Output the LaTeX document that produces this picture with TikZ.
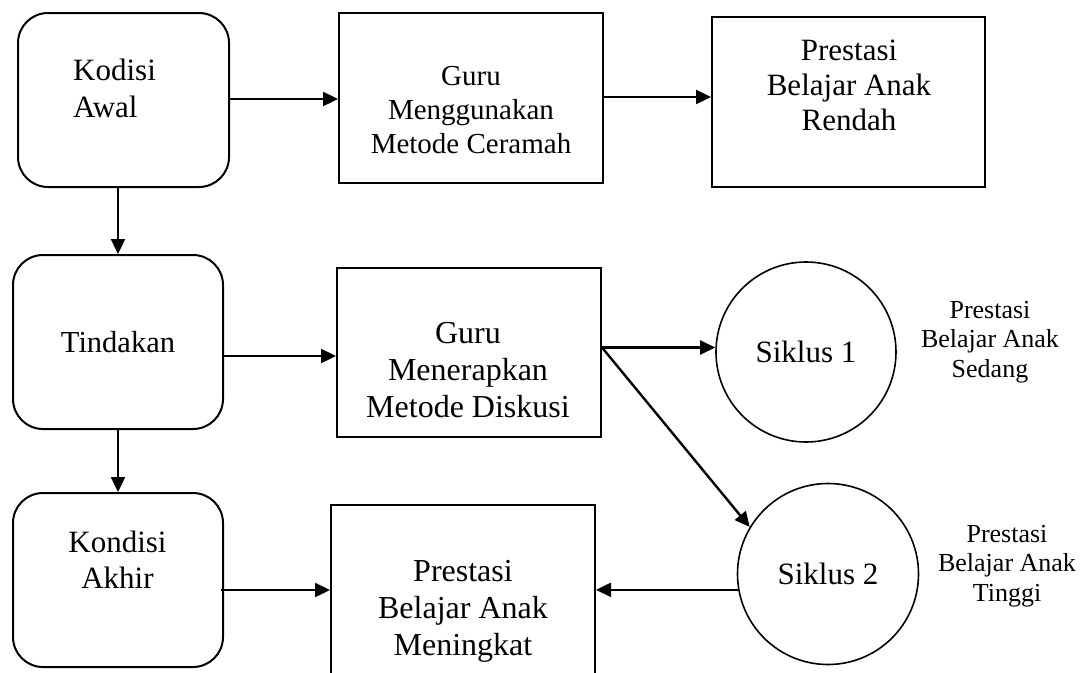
\documentclass[tikz,border=0pt]{standalone}
\usepackage{fontspec}
\setmainfont{Liberation Serif}
\usetikzlibrary{arrows.meta,calc}
\begin{document}
\begin{tikzpicture}[x=1pt,y=-1pt,
  sq/.style={draw,line width=2pt,inner sep=0pt},
  rsq/.style={sq,rounded corners=30pt},
  cyc/.style={draw,circle,line width=1.6pt,inner sep=0pt},
  txt/.style={inner sep=0pt,anchor=base},
  arr/.style={line width=2.4pt,-{Triangle[length=15pt,width=14pt]}}]
\useasboundingbox (0,0) rectangle (1084,672);
\fill[white] (0,0) rectangle (1084,672);
\clip (0,0) rectangle (1084,672);

% boxes
\node[rsq,minimum width=211pt,minimum height=174pt] (ka) at (123.5,100) {};
\node[sq,minimum width=264pt,minimum height=170pt] (cer) at (471,98) {};
\node[sq,minimum width=273pt,minimum height=170pt] (ren) at (848.5,102) {};
\node[rsq,minimum width=210pt,minimum height=174pt,font=\fontsize{30.5}{36}\selectfont] (tin) at (118,342) {Tindakan};
\node[sq,minimum width=264pt,minimum height=169pt] (dsk) at (469,352.5) {};
\node[cyc,minimum size=180pt,font=\fontsize{31}{36}\selectfont] (s1) at (806,352) {Siklus 1};
\node[rsq,minimum width=210pt,minimum height=174pt] (kak) at (118,580) {};
\node[sq,minimum width=264pt,minimum height=170pt] (mk) at (463,590) {};
\node[cyc,minimum size=181pt,font=\fontsize{31}{36}\selectfont] (s2) at (828,574) {Siklus 2};

% texts
\node[txt,anchor=base west] (kat) at (73,80)
  {\fontsize{31}{37}\selectfont\begin{tabular}[t]{@{}l@{}}Kodisi\\Awal\end{tabular}};
\node[txt] (cert) at (471,85)
  {\fontsize{29}{34}\selectfont\begin{tabular}[t]{@{}c@{}}Guru\\Menggunakan\\Metode Ceramah\end{tabular}};
\node[txt] (rent) at (849,60)
  {\fontsize{31}{35}\selectfont\begin{tabular}[t]{@{}c@{}}Prestasi\\Belajar Anak\\Rendah\end{tabular}};
\node[txt] (dskt) at (468,343)
  {\fontsize{32}{37}\selectfont\begin{tabular}[t]{@{}c@{}}Guru\\Menerapkan\\Metode Diskusi\end{tabular}};
\node[txt] (kakt) at (117.5,552)
  {\fontsize{31}{36}\selectfont\begin{tabular}[t]{@{}c@{}}Kondisi\\Akhir\end{tabular}};
\node[txt] (mkt) at (463,581)
  {\fontsize{32}{37}\selectfont\begin{tabular}[t]{@{}c@{}}Prestasi\\Belajar Anak\\Meningkat\end{tabular}};
\node[txt] (sed) at (990,318)
  {\fontsize{26}{29.5}\selectfont\begin{tabular}[t]{@{}c@{}}Prestasi\\Belajar Anak\\Sedang\end{tabular}};
\node[txt] (tng) at (1007,542)
  {\fontsize{26}{29.5}\selectfont\begin{tabular}[t]{@{}c@{}}Prestasi\\Belajar Anak\\Tinggi\end{tabular}};

% connectors
\coordinate (dsout) at ([yshift=5pt]dsk.east);
\draw[arr] ([yshift=1pt]ka.east) -- ([yshift=1pt]ka.east -| cer.west);
\draw[arr] ([yshift=1pt]cer.east) -- ([yshift=1pt]cer.east -| ren.west);
\draw[arr] (tin.north |- ka.south) -- (tin.north);
\draw[arr] ([yshift=-3.5pt]dsk.west -| tin.east) -- ([yshift=-3.5pt]dsk.west);
\draw[arr] (dsout) -- (dsout -| s1.west);
\draw[arr] (dsout) -- (s2.149);
\draw[arr] (tin.south) -- (kak.north);
\draw[arr] ([xshift=-3pt]mk.west -| kak.east) -- (mk.west);
\draw[arr] (s2.190) -- (s2.190 -| mk.east);
\end{tikzpicture}
\end{document}
